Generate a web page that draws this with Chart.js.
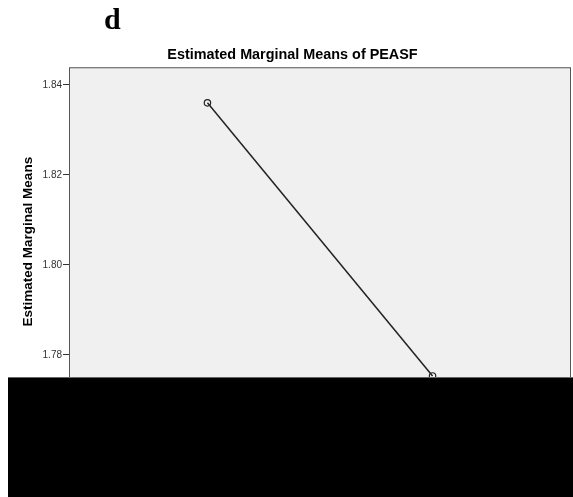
<!DOCTYPE html>
<html>
<head>
<meta charset="utf-8">
<script src="https://cdn.jsdelivr.net/npm/chart.js@4/dist/chart.umd.min.js"></script>
<style>
  html, body { margin: 0; padding: 0; background: #fff; }
  #wrap { position: relative; width: 573px; height: 497px; }
  #panel { position: absolute; left: 104px; top: 4px; font: bold 30px "Liberation Serif", serif; line-height: 30px; color: #000; }
  #mask { position: absolute; left: 8px; top: 377px; right: 0; bottom: 0; background: #000; border-top: 1px solid #666; }
</style>
</head>
<body>
<div id="wrap">
  <canvas id="emmChart" width="573" height="497"></canvas>
  <div id="panel">d</div>
  <div id="mask"></div>
</div>
<script>
// factor levels (labels are hidden under the black box in the source)
const categories = ['1', '2'];
// estimated marginal means of PEASF
const meanValues = [1.836, 1.7753];
// y axis tick labels
const yTicks = [1.78, 1.80, 1.82, 1.84];

// light gray plot area with a dark frame, like SPSS
const plotFrame = {
  id: 'plotFrame',
  beforeDatasetsDraw(chart) {
    const { ctx, chartArea: a } = chart;
    ctx.save();
    ctx.fillStyle = '#f0f0f0';
    ctx.fillRect(a.left, a.top, a.right - a.left, a.bottom - a.top);
    ctx.restore();
  },
  afterDraw(chart) {
    const { ctx, chartArea: a } = chart;
    ctx.save();
    ctx.strokeStyle = '#555';
    ctx.lineWidth = 1;
    ctx.strokeRect(a.left + 0.5, a.top + 0.5, a.right - a.left - 1, a.bottom - a.top);
    ctx.restore();
  }
};

const emmCanvas = document.getElementById('emmChart');

const emmChart = new Chart(emmCanvas.getContext('2d'), {
  type: 'line',
  data: {
    datasets: [{
      label: 'PEASF',
      data: meanValues.map((v, i) => ({ x: i + 1, y: v, cat: categories[i] })),
      borderColor: '#222',
      borderWidth: 1.5,
      pointRadius: 3.2,
      pointBorderWidth: 1.2,
      pointBorderColor: '#222',
      pointBackgroundColor: 'rgba(0,0,0,0)',
      fill: false,
      tension: 0
    }]
  },
  options: {
    responsive: false,
    animation: false,
    layout: { autoPadding: false, padding: { left: 14, right: 2, top: 0, bottom: 81 } },
    plugins: {
      legend: { display: false },
      tooltip: { enabled: false },
      title: {
        display: true,
        text: 'Estimated Marginal Means of PEASF',
        color: '#000',
        font: { family: 'Liberation Sans, Arial', size: 14.4, weight: 'bold' },
        padding: { top: 46, bottom: 4 }
      }
    },
    scales: {
      x: {
        type: 'linear',
        display: false,
        min: 0.385,
        max: 2.615
      },
      y: {
        min: 1.7664,
        max: 1.8439,
        afterBuildTicks: (scale) => { scale.ticks = yTicks.map(v => ({ value: v })); },
        afterFit: (scale) => { scale.width = 55; },
        grid: {
          drawOnChartArea: false,
          drawTicks: true,
          tickLength: 6,
          color: '#333'
        },
        border: { display: false },
        ticks: {
          color: '#333',
          padding: 1,
          font: { family: 'Liberation Sans, Arial', size: 10 },
          callback: (v) => Number(v).toFixed(2)
        },
        title: {
          display: true,
          text: 'Estimated Marginal Means',
          color: '#000',
          font: { family: 'Liberation Sans, Arial', size: 13.5, weight: 'bold' },
          padding: { top: 6, bottom: 0 }
        }
      }
    }
  },
  plugins: [plotFrame]
});
</script>
</body>
</html>
